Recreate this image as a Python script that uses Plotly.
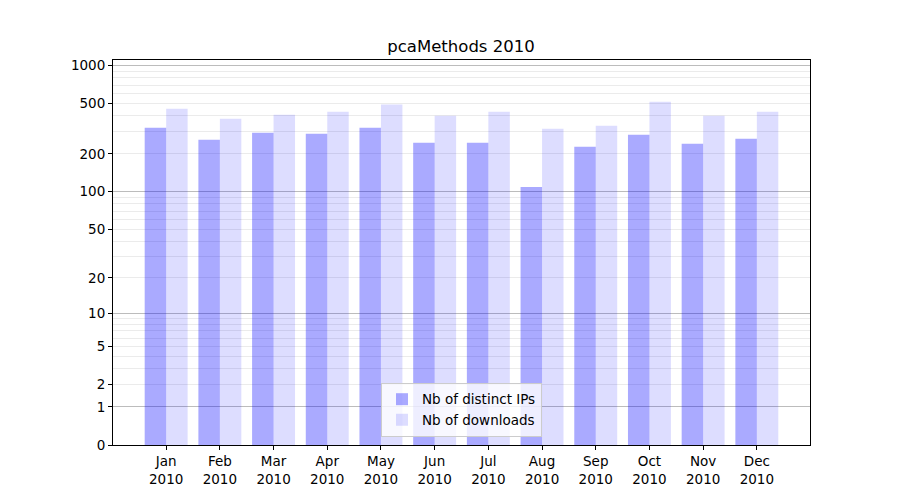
import numpy as np
import plotly.graph_objects as go

months = ["Jan", "Feb", "Mar", "Apr", "May", "Jun", "Jul", "Aug", "Sep", "Oct", "Nov", "Dec"]
year = "2010"
distinct_ips = [323, 259, 294, 289, 322, 245, 245, 109, 228, 284, 241, 264]
downloads = [457, 380, 409, 432, 494, 402, 432, 317, 335, 519, 402, 432]
tick_labels = [0, 1, 2, 5, 10, 20, 50, 100, 200, 500, 1000]
major_grid = [1, 10, 100, 1000]
minor_grid = [m * d for d in (1, 10, 100) for m in range(2, 10)]


def tr(v):
    return np.log10(1 + np.asarray(v, dtype=float))


x = np.arange(len(months))
font = "DejaVu Sans, Liberation Sans, sans-serif"

fig = go.Figure()
fig.add_trace(go.Bar(x=x - 0.2, y=tr(distinct_ips), width=0.4, name="Nb of distinct IPs",
                     marker=dict(color="rgba(0,0,255,0.333)", line=dict(width=0))))
fig.add_trace(go.Bar(x=x + 0.2, y=tr(downloads), width=0.4, name="Nb of downloads",
                     marker=dict(color="rgba(0,0,255,0.135)", line=dict(width=0))))
fig.add_trace(go.Scatter(x=[x[0]], y=[0], yaxis="y2", mode="markers",
                         marker=dict(opacity=0), showlegend=False, hoverinfo="skip"))

yrange = [0, 3.046]
fig.update_layout(
    width=900, height=500,
    margin=dict(l=105, r=98, t=52, b=63),
    paper_bgcolor="white", plot_bgcolor="white",
    font=dict(family=font, size=13.5, color="black"),
    title=dict(text="pcaMethods 2010", x=(105 + 348) / 900, xanchor="center", y=1 - 38 / 500,
               yanchor="middle", font=dict(size=16.5, family=font)),
    barmode="overlay",
    showlegend=True,
    legend=dict(x=0.5, xanchor="center", y=0.021, yanchor="bottom",
                bgcolor="rgba(255,255,255,0.8)", bordercolor="#cccccc", borderwidth=1,
                font=dict(size=13.5, family=font), tracegroupgap=0, itemwidth=30),
    xaxis=dict(range=[-0.99, 11.99], tickvals=list(x),
               ticktext=[f"{m}<br>{year}" for m in months],
               showgrid=False, zeroline=False, ticks="outside", ticklen=4, tickcolor="black",
               showline=True, linecolor="black", linewidth=1, mirror=True),
    yaxis=dict(range=yrange, tickvals=list(tr(tick_labels)), ticktext=[str(t) for t in tick_labels],
               showgrid=False, zeroline=False, ticks="outside", ticklen=4, tickcolor="black",
               showline=True, linecolor="black", linewidth=1, mirror=True,
               minor=dict(tickvals=list(tr(minor_grid)), showgrid=True,
                          gridcolor="#ebebeb", gridwidth=1, ticks="")),
    yaxis2=dict(range=yrange, overlaying="y", side="left", tickvals=list(tr(major_grid)),
                showticklabels=False, showgrid=True, gridcolor="#bcbcbc", gridwidth=1,
                zeroline=False, ticks="", showline=False),
)

fig.write_html("out.html")
